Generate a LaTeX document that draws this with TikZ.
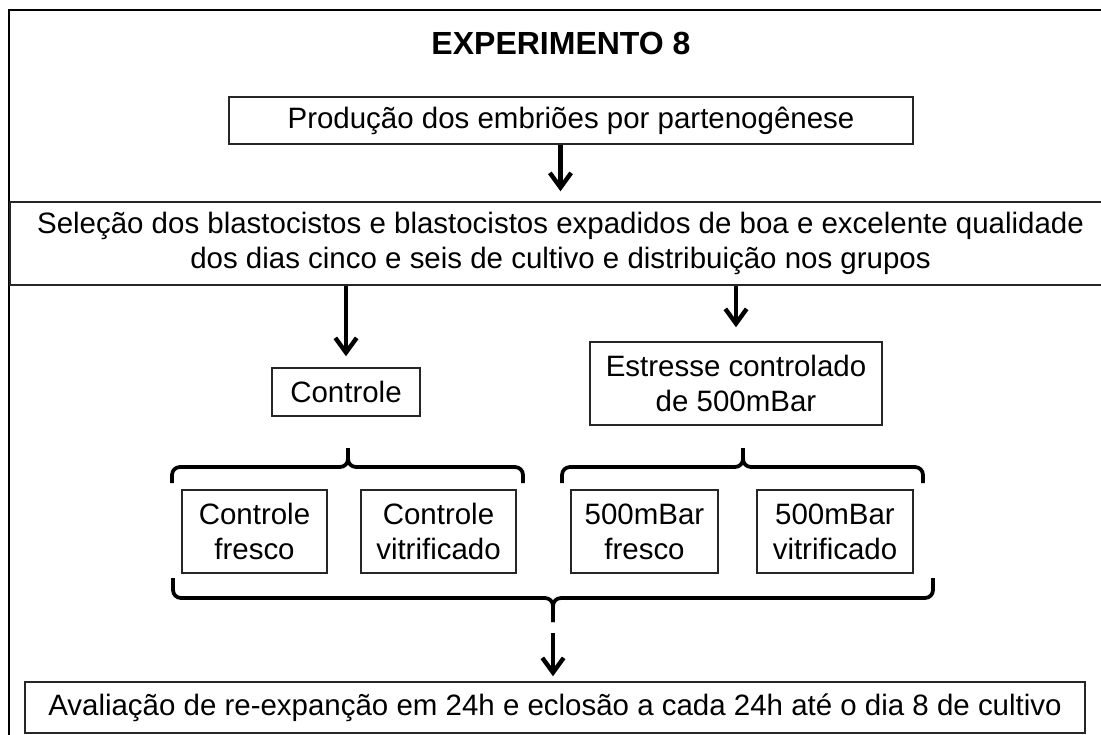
\documentclass[tikz,border=0pt]{standalone}
\usepackage{fontspec}
\setmainfont{Liberation Sans}
\usetikzlibrary{positioning, arrows.meta}

\tikzset{
  box/.style={draw=black!85, line width=1.1pt, inner sep=0pt, align=center,
    font=\fontsize{22.1}{26.25}\selectfont},
  arr/.style={line width=3.3pt, -{Straight Barb[length=11pt, width=16pt]}},
  brc/.style={line width=2.8pt, rounded corners=6pt}
}

\begin{document}
\begin{tikzpicture}[x=0.75pt, y=-0.75pt]
    \useasboundingbox (0,0) rectangle (1101,735);

    % Draw outer frame
    \draw[line width=1.5pt] (9,745) -- (9,10) -- (1110,10);

    % Title and main steps
    \node[font=\bfseries\fontsize{24}{28}\selectfont] (title) at (561,43) {EXPERIMENTO 8};
    \node[box, minimum width=513pt, minimum height=35.25pt] (prod) at (571,120.5)
      {Produção dos embriões por partenogênese};
    \node[box, minimum width=825.75pt, minimum height=62.25pt] (sel) at (560.5,243.5)
      {Seleção dos blastocistos e blastocistos expadidos de boa e excelente qualidade\\
       dos dias cinco e seis de cultivo e distribuição nos grupos};
    \node[box, minimum width=111pt, minimum height=36pt] (ctrl) at (346,392) {Controle};
    \node[box, minimum width=219pt, minimum height=62.25pt] (est) at (736,383.5)
      {Estresse controlado\\de 500mBar};

    % Draw groups
    \foreach \n/\x/\w/\t in {cf/254.5/108.75/{Controle\\fresco}, cv/438.5/116.25/{Controle\\vitrificado},
                             mf/644.5/110.25/{500mBar\\fresco}, mv/835/117/{500mBar\\vitrificado}} {
      \node[box, minimum width=\w pt, minimum height=62.25pt] (\n) at (\x,531.5) {\t};
    }

    \node[box, minimum width=795pt, minimum height=38.25pt] (aval) at (555,707.5)
      {Avaliação de re-expanção em 24h e eclosão a cada 24h até o dia 8 de cultivo};

    % Draw arrows
    \draw[arr, shorten >=7.5pt] (prod.south -| sel.north) -- (sel.north);
    \draw[arr, shorten >=8.25pt] (sel.south -| ctrl.north) -- (ctrl.north);
    \draw[arr, shorten >=10.5pt] (sel.south -| est.north) -- (est.north);

    % Draw braces (ends, middle of the bar, tip)
    \coordinate (bl1) at (172,483);
    \coordinate (bl2) at (523,483);
    \coordinate (blm) at (348,467);
    \coordinate (blt) at (348,448);
    \coordinate (br1) at (562,483);
    \coordinate (br2) at (923,483);
    \coordinate (brm) at (743,467);
    \coordinate (brt) at (743,448);
    \coordinate (bb1) at (173,578);
    \coordinate (bb2) at (933,578);
    \coordinate (bbm) at (553,598);
    \coordinate (bbt) at (553,622);
    \foreach \b in {bl, br, bb} {
      \draw[brc] (\b1) |- (\b m) -- (\b t);
      \draw[brc] (\b2) |- (\b m) -- (\b t);
    }

    \draw[arr, shorten <=8.25pt, shorten >=3.75pt] (bbt) -- (bbt |- aval.north);

\end{tikzpicture}
\end{document}
